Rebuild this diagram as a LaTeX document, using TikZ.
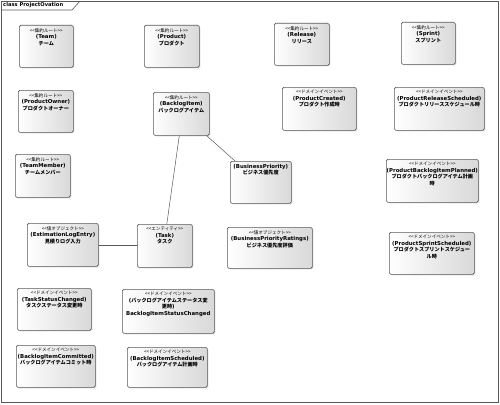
\documentclass[tikz,border=0pt]{standalone}
\usepackage{fontspec}
\setmainfont{DejaVu Sans}
\newfontfamily\jpfont{Noto Sans CJK JP}[Scale = 0.95]
\usetikzlibrary{shadows}
\newcommand{\jp}[1]{{\jpfont #1}}
\newcommand{\stereo}[1]{{\mdseries\jpfont\fontsize{4.8}{6.5}\selectfont <{}<#1>{}>}}
\tikzset{
  umlbox/.style = {draw = black!65, line width = .6pt, rounded corners = 1.5pt,
                   anchor = north west, left color = white, right color = black!15,
                   drop shadow = {shadow xshift = 1pt, shadow yshift = -1pt, opacity = .3}},
  boxtext/.style = {anchor = north, align = center, inner sep = 0pt, yshift = -3pt,
                    font = \fontsize{5.4}{6.5}\selectfont\bfseries},
  assoc/.style = {draw = black!65, line width = .5pt}
}
\begin{document}
\begin{tikzpicture}[x = 1pt, y = -1pt]
  \useasboundingbox (0,0) rectangle (500,404);
  \draw [black!65, line width = .8pt] (1,1) rectangle (498,402);
  \draw [black!65, line width = .6pt] (1,10) -- (72,10) -- (80,1);
  \node [anchor = west, inner sep = 0pt, font = \fontsize{5.2}{6}\selectfont\bfseries]
    (frametitle) at (3,5.5) {class ProjectOvation};

  \node [umlbox, minimum width = 54pt, minimum height = 42pt,
         label = {[boxtext]north:{\stereo{集約ルート}\\(Team)\\\jp{チーム}}}]
    (team) at (19,25) {};
  \node [umlbox, minimum width = 55pt, minimum height = 42pt,
         label = {[boxtext]north:{\stereo{集約ルート}\\(Product)\\\jp{プロダクト}}}]
    (product) at (144,25) {};
  \node [umlbox, minimum width = 55pt, minimum height = 42pt,
         label = {[boxtext]north:{\stereo{集約ルート}\\(Release)\\\jp{リリース}}}]
    (release) at (274,23) {};
  \node [umlbox, minimum width = 54pt, minimum height = 42pt,
         label = {[boxtext]north:{\stereo{集約ルート}\\(Sprint)\\\jp{スプリント}}}]
    (sprint) at (401,22) {};

  \node [umlbox, minimum width = 55pt, minimum height = 42pt,
         label = {[boxtext]north:{\stereo{集約ルート}\\(ProductOwner)\\\jp{プロダクトオーナー}}}]
    (productowner) at (18,90) {};
  \node [umlbox, minimum width = 56pt, minimum height = 43pt,
         label = {[boxtext]north:{\stereo{集約ルート}\\(BacklogItem)\\\jp{バックログアイテム}}}]
    (backlogitem) at (153,92) {};
  \node [umlbox, minimum width = 74pt, minimum height = 43pt,
         label = {[boxtext]north:{\stereo{ドメインイベント}\\(ProductCreated)\\\jp{プロダクト作成時}}}]
    (productcreated) at (282,87) {};
  \node [umlbox, minimum width = 90pt, minimum height = 43pt,
         label = {[boxtext]north:{\stereo{ドメインイベント}\\(ProductReleaseScheduled)\\\jp{プロダクトリリーススケジュール時}}}]
    (releasescheduled) at (394,87) {};

  \node [umlbox, minimum width = 55pt, minimum height = 43pt,
         label = {[boxtext]north:{\stereo{集約ルート}\\(TeamMember)\\\jp{チームメンバー}}}]
    (teammember) at (15,154) {};
  \node [umlbox, minimum width = 61pt, minimum height = 42pt,
         label = {[boxtext]north:{(BusinessPriority)\\\jp{ビジネス優先度}}}]
    (bizpriority) at (230,161) {};
  \node [umlbox, minimum width = 92pt, minimum height = 43pt,
         label = {[boxtext]north:{\stereo{ドメインイベント}\\(ProductBacklogItemPlanned)\\\jp{プロダクトバックログアイテム計画}\\\jp{時}}}]
    (itemplanned) at (386,159) {};

  \node [umlbox, minimum width = 71pt, minimum height = 43pt,
         label = {[boxtext]north:{\stereo{値オブジェクト}\\(EstimationLogEntry)\\\jp{見積りログ入力}}}]
    (estimation) at (27,223) {};
  \node [umlbox, minimum width = 55pt, minimum height = 43pt,
         label = {[boxtext]north:{\stereo{エンティティ}\\(Task)\\\jp{タスク}}}]
    (task) at (137,224) {};
  \node [umlbox, minimum width = 85pt, minimum height = 41pt,
         label = {[boxtext]north:{\stereo{値オブジェクト}\\(BusinessPriorityRatings)\\\jp{ビジネス優先度評価}}}]
    (ratings) at (227,227) {};
  \node [umlbox, minimum width = 85pt, minimum height = 42pt,
         label = {[boxtext]north:{\stereo{ドメインイベント}\\(ProductSprintScheduled)\\\jp{プロダクトスプリントスケジュー}\\\jp{ル時}}}]
    (sprintscheduled) at (389,232) {};

  \node [umlbox, minimum width = 74pt, minimum height = 42pt,
         label = {[boxtext]north:{\stereo{ドメインイベント}\\(TaskStatusChanged)\\\jp{タスクステータス変更時}}}]
    (taskstatus) at (17,288) {};
  \node [umlbox, minimum width = 92pt, minimum height = 44pt,
         label = {[boxtext]north:{\stereo{ドメインイベント}\\(\jp{バックログアイテムステータス変}\\\jp{更時})\\BacklogItemStatusChanged}}]
    (itemstatus) at (122,289) {};
  \node [umlbox, minimum width = 79pt, minimum height = 42pt,
         label = {[boxtext]north:{\stereo{ドメインイベント}\\(BacklogItemCommitted)\\\jp{バックログアイテムコミット時}}}]
    (committed) at (16,345) {};
  \node [umlbox, minimum width = 80pt, minimum height = 40pt,
         label = {[boxtext]north:{\stereo{ドメインイベント}\\(BacklogItemScheduled)\\\jp{バックログアイテム計画時}}}]
    (itemscheduled) at (127,347) {};

  \draw [assoc] ([xshift = -2pt]backlogitem.south) -- ([xshift = 2pt]task.north);
  \draw [assoc] ([xshift = -3pt]backlogitem.south east) -- ([xshift = 5pt]bizpriority.north west);
  \draw [assoc] (estimation.east) -- (estimation.east -| task.west);
\end{tikzpicture}
\end{document}
